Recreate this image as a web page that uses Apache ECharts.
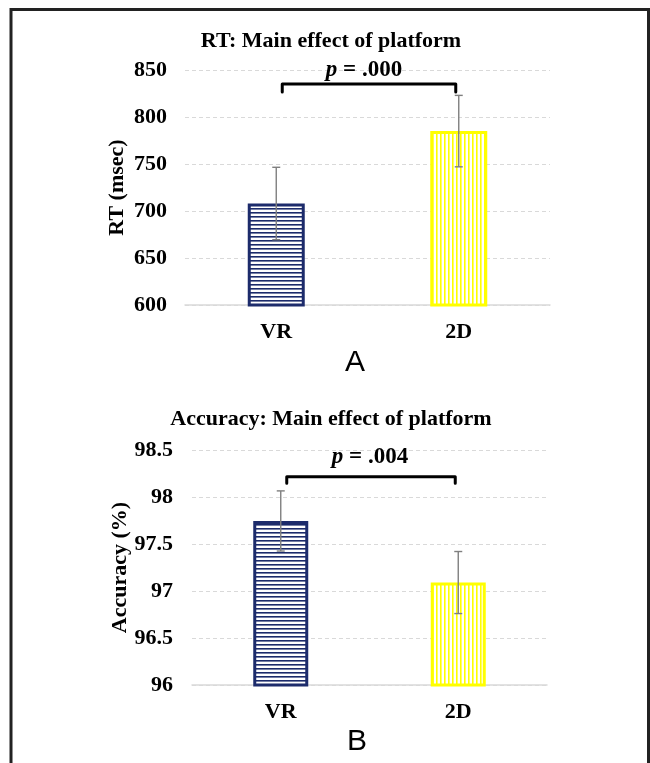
<!DOCTYPE html>
<html>
<head>
<meta charset="utf-8">
<script src="https://cdn.jsdelivr.net/npm/echarts@6/dist/echarts.min.js"></script>
<style>html,body{margin:0;padding:0;background:#fff;}#c{width:650px;height:763px;}</style>
</head>
<body>
<div id="c"></div>
<script>
// ---- data ----
const categories = ['VR', '2D'];
const rtMeans = [708, 785];
const rtErrors = [38.5, 38];
const accMeans = [97.745, 97.09];
const accErrors = [0.32, 0.33];
const rtTicks = { min: 600, max: 850, interval: 50 };
const accTicks = { min: 96, max: 98.5, interval: 0.5 };
// significance brackets: [fromIndex, toIndex, topValue, hookValue, labelValue]
const rtBracket = [0, 1, 835, 826.5, 850];
const accBracket = [0, 1, 98.216, 98.145, 98.43];
const rtPText = '.000';
const accPText = '.004';
const titles = ['RT: Main effect of platform', 'Accuracy: Main effect of platform'];
const axisNames = ['RT (msec)', 'Accuracy (%)'];
const panelLetters = ['A', 'B'];

// ---- styles ----
const NAVY = '#1c2b6b';
const YELLOW = '#ffff00';
const SERIF = '"Liberation Serif", "Times New Roman", serif';
const SANS = '"Liberation Sans", Arial, sans-serif';

function stripePattern(color, horizontal) {
  const c = document.createElement('canvas');
  c.width = 4; c.height = 4;
  const ctx = c.getContext('2d');
  ctx.fillStyle = '#ffffff';
  ctx.fillRect(0, 0, 4, 4);
  ctx.fillStyle = color;
  if (horizontal) ctx.fillRect(0, 0, 4, 1.6);
  else ctx.fillRect(0, 0, 1.6, 4);
  return { image: c, repeat: 'repeat' };
}
const navyPattern = stripePattern(NAVY, true);
const yellowPattern = stripePattern(YELLOW, false);

const chart = echarts.init(document.getElementById('c'), null, { renderer: 'canvas' });

function barData(vals) {
  return vals.map((v, i) => ({
    value: v,
    itemStyle: i === 0
      ? { color: navyPattern, borderColor: NAVY, borderWidth: 3 }
      : { color: yellowPattern, borderColor: YELLOW, borderWidth: 3 }
  }));
}
function errData(means, errs) {
  return means.map((m, i) => [i, m, errs[i]]);
}
function errRender(params, api) {
  const x = api.value(0), m = api.value(1), e = api.value(2);
  const top = api.coord([x, m + e]);
  const bot = api.coord([x, m - e]);
  const cap = 4;
  const style = { stroke: '#7f7f7f', lineWidth: 1.4 };
  return {
    type: 'group',
    children: [
      { type: 'line', shape: { x1: top[0], y1: top[1], x2: bot[0], y2: bot[1] }, style },
      { type: 'line', shape: { x1: top[0] - cap, y1: top[1], x2: top[0] + cap, y2: top[1] }, style },
      { type: 'line', shape: { x1: bot[0] - cap, y1: bot[1], x2: bot[0] + cap, y2: bot[1] }, style }
    ]
  };
}
function bracketRender(ptext, labelShift) {
  return function (params, api) {
    const a = api.value(0), b = api.value(1), t = api.value(2), h = api.value(3), l = api.value(4);
    const pa = api.coord([a, t]), pb = api.coord([b, t]);
    const ha = api.coord([a, h]);
    const lab = api.coord([(a + b) / 2, l]);
    const xa = pa[0] + 6, xb = pb[0] - 3;
    return {
      type: 'group',
      children: [
        { type: 'polyline',
          shape: { points: [[xa, ha[1]], [xa, pa[1]], [xb, pa[1]], [xb, ha[1]]] },
          style: { stroke: '#000', lineWidth: 3, fill: null, lineJoin: 'round', lineCap: 'round' } },
        { type: 'text', x: (xa + xb) / 2 + labelShift, y: lab[1],
          style: {
            text: '{i|p} = ' + ptext,
            rich: { i: { fontStyle: 'italic', fontWeight: 'bold', fontFamily: SERIF, fontSize: 23, fill: '#000' } },
            fontFamily: SERIF, fontWeight: 'bold', fontSize: 23, fill: '#000',
            align: 'center', verticalAlign: 'middle'
          } }
      ]
    };
  };
}

const axisLabelStyle = { color: '#000', fontFamily: SERIF, fontWeight: 'bold', fontSize: 22 };
const nameStyle = { fontFamily: SERIF, fontWeight: 'bold', fontSize: 22, color: '#000' };
const titleStyle = { fontFamily: SERIF, fontWeight: 'bold', fontSize: 22, color: '#000' };

const option = {
  animation: false,
  backgroundColor: '#fff',
  title: [
    { text: titles[0], left: 326, top: 25, textAlign: 'center', textStyle: titleStyle },
    { text: titles[1], left: 326, top: 403, textAlign: 'center', textStyle: titleStyle }
  ],
  grid: [
    { left: 185, top: 70, width: 365, height: 235 },
    { left: 192, top: 450, width: 355, height: 235 }
  ],
  xAxis: [0, 1].map(g => ({
    type: 'category', gridIndex: g, data: categories,
    axisLine: { show: true, lineStyle: { color: '#d9d9d9', width: 1.5 } },
    axisTick: { show: false },
    axisLabel: Object.assign({ margin: 16 }, axisLabelStyle),
    splitLine: { show: false }
  })),
  yAxis: [
    { type: 'value', gridIndex: 0, min: rtTicks.min, max: rtTicks.max, interval: rtTicks.interval,
      name: axisNames[0], nameLocation: 'middle', nameGap: 57, nameRotate: 90, nameMoveOverlap: false,
      nameTextStyle: nameStyle,
      axisLine: { show: false }, axisTick: { show: false },
      axisLabel: Object.assign({ margin: 18 }, axisLabelStyle),
      splitLine: { show: true, lineStyle: { color: '#d9d9d9', type: [4, 3], width: 1 } } },
    { type: 'value', gridIndex: 1, min: accTicks.min, max: accTicks.max, interval: accTicks.interval,
      name: axisNames[1], nameLocation: 'middle', nameGap: 61, nameRotate: 90, nameMoveOverlap: false,
      nameTextStyle: nameStyle,
      axisLine: { show: false }, axisTick: { show: false },
      axisLabel: Object.assign({ margin: 19 }, axisLabelStyle),
      splitLine: { show: true, lineStyle: { color: '#d9d9d9', type: [4, 3], width: 1 } } }
  ],
  series: [
    { type: 'bar', xAxisIndex: 0, yAxisIndex: 0, barWidth: 57, data: barData(rtMeans) },
    { type: 'custom', xAxisIndex: 0, yAxisIndex: 0, renderItem: errRender, data: errData(rtMeans, rtErrors), z: 5 },
    { type: 'custom', xAxisIndex: 0, yAxisIndex: 0, renderItem: bracketRender(rtPText, -5), data: [rtBracket], z: 5 },
    { type: 'bar', xAxisIndex: 1, yAxisIndex: 1, barWidth: 55, data: barData(accMeans) },
    { type: 'custom', xAxisIndex: 1, yAxisIndex: 1, renderItem: errRender, data: errData(accMeans, accErrors), z: 5 },
    { type: 'custom', xAxisIndex: 1, yAxisIndex: 1, renderItem: bracketRender(accPText, -1), data: [accBracket], z: 5 }
  ],
  graphic: [
    { type: 'rect', shape: { x: 11, y: 9.5, width: 637.5, height: 800 },
      style: { fill: null, stroke: '#222', lineWidth: 3 }, z: 100 },
    { type: 'text', x: 355, y: 363, style: { text: panelLetters[0], fontFamily: SANS, fontSize: 30, fill: '#000', align: 'center', verticalAlign: 'middle' } },
    { type: 'text', x: 357, y: 742, style: { text: panelLetters[1], fontFamily: SANS, fontSize: 30, fill: '#000', align: 'center', verticalAlign: 'middle' } }
  ]
};
chart.setOption(option);
</script>
</body>
</html>
